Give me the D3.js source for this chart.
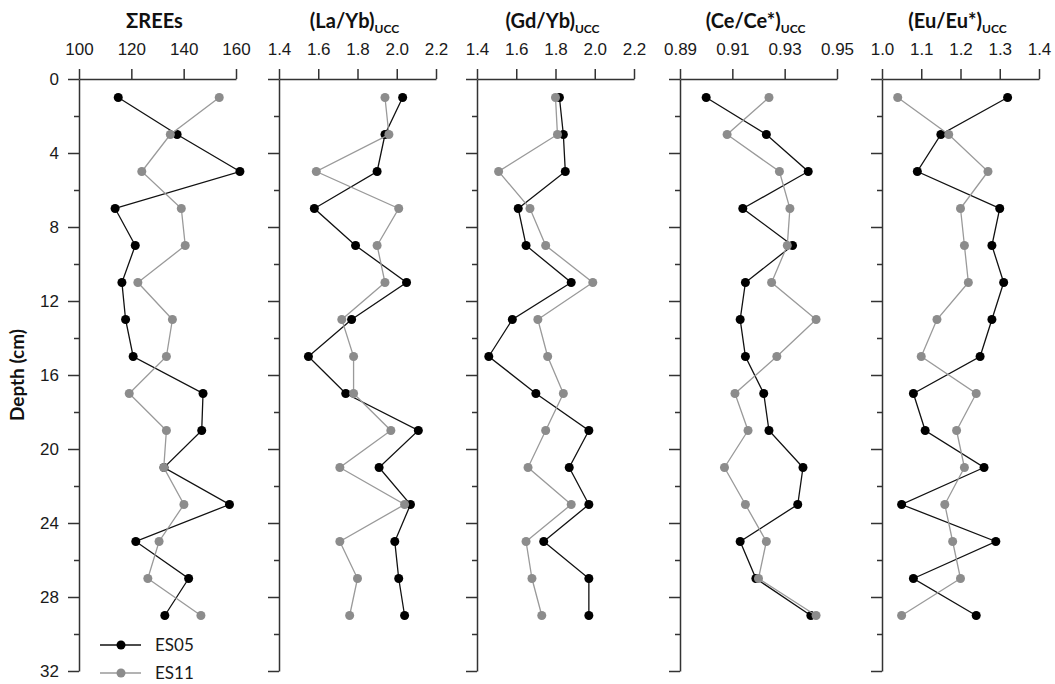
<!DOCTYPE html>
<html>
<head>
<meta charset="utf-8">
<script src="https://cdn.jsdelivr.net/npm/d3@7"></script>
<style>
  body { margin: 0; background: #fff; }
  svg { font-family: Lato, "Open Sans", sans-serif; }
</style>
</head>
<body>
<div id="chart"></div>
<script>
// depth of each sample (cm)
var depth = [1, 3, 5, 7, 9, 11, 13, 15, 17, 19, 21, 23, 25, 27, 29];
var depthTicks = [0, 4, 8, 12, 16, 20, 24, 28, 32];
var depthMinor = [2, 6, 10, 14, 18, 22, 26, 30];

// sum of REEs
var ree_es05 = [115.0, 137.5, 161.5, 113.8, 121.5, 116.4, 117.8, 120.7, 147.4, 146.9, 132.5, 157.5, 121.7, 141.9, 132.8];
var ree_es11 = [153.6, 134.9, 124.0, 139.1, 140.6, 122.5, 135.7, 133.4, 119.2, 133.4, 132.4, 140.1, 130.6, 126.3, 146.6];
// (La/Yb)ucc
var layb_es05 = [2.03, 1.94, 1.90, 1.58, 1.79, 2.05, 1.77, 1.55, 1.74, 2.11, 1.91, 2.07, 1.99, 2.01, 2.04];
var layb_es11 = [1.94, 1.96, 1.59, 2.01, 1.90, 1.94, 1.72, 1.78, 1.78, 1.97, 1.71, 2.04, 1.71, 1.80, 1.76];
// (Gd/Yb)ucc
var gdyb_es05 = [1.82, 1.84, 1.85, 1.61, 1.65, 1.88, 1.58, 1.46, 1.70, 1.97, 1.87, 1.97, 1.74, 1.97, 1.97];
var gdyb_es11 = [1.80, 1.81, 1.51, 1.67, 1.75, 1.99, 1.71, 1.76, 1.84, 1.75, 1.66, 1.88, 1.65, 1.68, 1.73];
// (Ce/Ce*)ucc
var cece_es05 = [0.900, 0.923, 0.939, 0.914, 0.933, 0.915, 0.913, 0.915, 0.922, 0.924, 0.937, 0.935, 0.913, 0.919, 0.940];
var cece_es11 = [0.924, 0.908, 0.928, 0.932, 0.931, 0.925, 0.942, 0.927, 0.911, 0.916, 0.907, 0.915, 0.923, 0.920, 0.942];
// (Eu/Eu*)ucc
var euEu_es05 = [1.32, 1.15, 1.09, 1.30, 1.28, 1.31, 1.28, 1.25, 1.08, 1.11, 1.26, 1.05, 1.29, 1.08, 1.24];
var euEu_es11 = [1.04, 1.17, 1.27, 1.20, 1.21, 1.22, 1.14, 1.10, 1.24, 1.19, 1.21, 1.16, 1.18, 1.20, 1.05];

var seriesNames = ["ES05", "ES11"];

var panels = [
  { title: "\u03A3REEs", sub: "", domain: [100, 160], ticks: [100, 120, 140, 160], fmt: d3.format("d"), es05: ree_es05, es11: ree_es11 },
  { title: "(La/Yb)", sub: "UCC", domain: [1.4, 2.2], ticks: [1.4, 1.6, 1.8, 2.0, 2.2], fmt: d3.format(".1f"), es05: layb_es05, es11: layb_es11 },
  { title: "(Gd/Yb)", sub: "UCC", domain: [1.4, 2.2], ticks: [1.4, 1.6, 1.8, 2.0, 2.2], fmt: d3.format(".1f"), es05: gdyb_es05, es11: gdyb_es11 },
  { title: "(Ce/Ce*)", sub: "UCC", domain: [0.89, 0.95], ticks: [0.89, 0.91, 0.93, 0.95], fmt: d3.format(".2f"), es05: cece_es05, es11: cece_es11 },
  { title: "(Eu/Eu*)", sub: "UCC", domain: [1.0, 1.4], ticks: [1.0, 1.1, 1.2, 1.3, 1.4], fmt: d3.format(".1f"), es05: euEu_es05, es11: euEu_es11 }
];

var width = 1055, height = 684;
var panelLeft = [79, 279, 477, 680, 882];
var panelW = 157;
var yTop = 79, yBottom = 671;
var axisColor = "#333";
var colors = { ES05: "#000", ES11: "#8c8c8c" };
var lineColors = { ES05: "#111", ES11: "#9a9a9a" };

var svg = d3.select("#chart").append("svg")
    .attr("width", width)
    .attr("height", height);

var y = d3.scaleLinear().domain([0, 32]).range([yTop, yBottom]);

panels.forEach(function(p, i) {
  var x = d3.scaleLinear().domain(p.domain).range([panelLeft[i], panelLeft[i] + panelW]);
  var g = svg.append("g");

  // minor depth ticks
  g.append("g")
    .attr("transform", "translate(" + panelLeft[i] + ",0)")
    .call(d3.axisLeft(y).tickValues(depthMinor).tickSize(5).tickSizeOuter(0).tickFormat(""))
    .call(function(a) { a.select(".domain").remove(); });

  // major depth ticks + axis line
  var ya = g.append("g")
    .attr("transform", "translate(" + panelLeft[i] + ",0)")
    .call(d3.axisLeft(y).tickValues(depthTicks).tickSize(11).tickSizeOuter(0)
      .tickFormat(i === 0 ? d3.format("d") : ""));
  ya.selectAll("text").attr("font-size", 17).attr("fill", "#1a1a1a").attr("x", -20);

  // top value axis
  var xa = g.append("g")
    .attr("transform", "translate(0," + yTop + ")")
    .call(d3.axisTop(x).tickValues(p.ticks).tickSize(10).tickSizeOuter(0).tickFormat(p.fmt));
  xa.selectAll("text").attr("font-size", 17).attr("fill", "#1a1a1a").attr("y", -24);

  g.selectAll(".domain, .tick line").attr("stroke", axisColor).attr("stroke-width", 1.5);

  // title
  var t = g.append("text")
    .attr("x", panelLeft[i] + panelW / 2 - 3)
    .attr("y", 28)
    .attr("text-anchor", "middle")
    .attr("font-size", 20)
    .attr("font-weight", "bold")
    .attr("fill", "#111")
    .text(p.title);
  if (p.sub) {
    t.append("tspan").attr("font-size", 12).attr("dy", 5).text(p.sub);
  }

  // series (ES11 drawn last, on top)
  var line = d3.line().x(function(d) { return x(d[0]); }).y(function(d) { return y(d[1]); });
  seriesNames.forEach(function(name) {
    var vals = name === "ES05" ? p.es05 : p.es11;
    var pts = vals.map(function(v, k) { return [v, depth[k]]; });
    g.append("path")
      .datum(pts)
      .attr("d", line)
      .attr("fill", "none")
      .attr("stroke", lineColors[name])
      .attr("stroke-width", 1.3);
    g.selectAll(null)
      .data(pts)
      .enter()
      .append("circle")
      .attr("cx", function(d) { return x(d[0]); })
      .attr("cy", function(d) { return y(d[1]); })
      .attr("r", 4.5)
      .attr("fill", colors[name]);
  });
});

// depth label
svg.append("text")
  .attr("transform", "translate(24," + ((yTop + yBottom) / 2) + ") rotate(-90)")
  .attr("text-anchor", "middle")
  .attr("font-size", 19)
  .attr("font-weight", "bold")
  .attr("fill", "#111")
  .text("Depth (cm)");

// legend
var legend = svg.append("g");
seriesNames.forEach(function(name, k) {
  var ly = 645 + k * 28;
  legend.append("line")
    .attr("x1", 100).attr("x2", 141).attr("y1", ly).attr("y2", ly)
    .attr("stroke", lineColors[name]).attr("stroke-width", 1.3);
  legend.append("circle")
    .attr("cx", 121).attr("cy", ly).attr("r", 4.5).attr("fill", colors[name]);
  legend.append("text")
    .attr("x", 155).attr("y", ly).attr("dy", "0.35em")
    .attr("font-size", 17).attr("fill", "#1a1a1a")
    .text(name);
});
</script>
</body>
</html>
